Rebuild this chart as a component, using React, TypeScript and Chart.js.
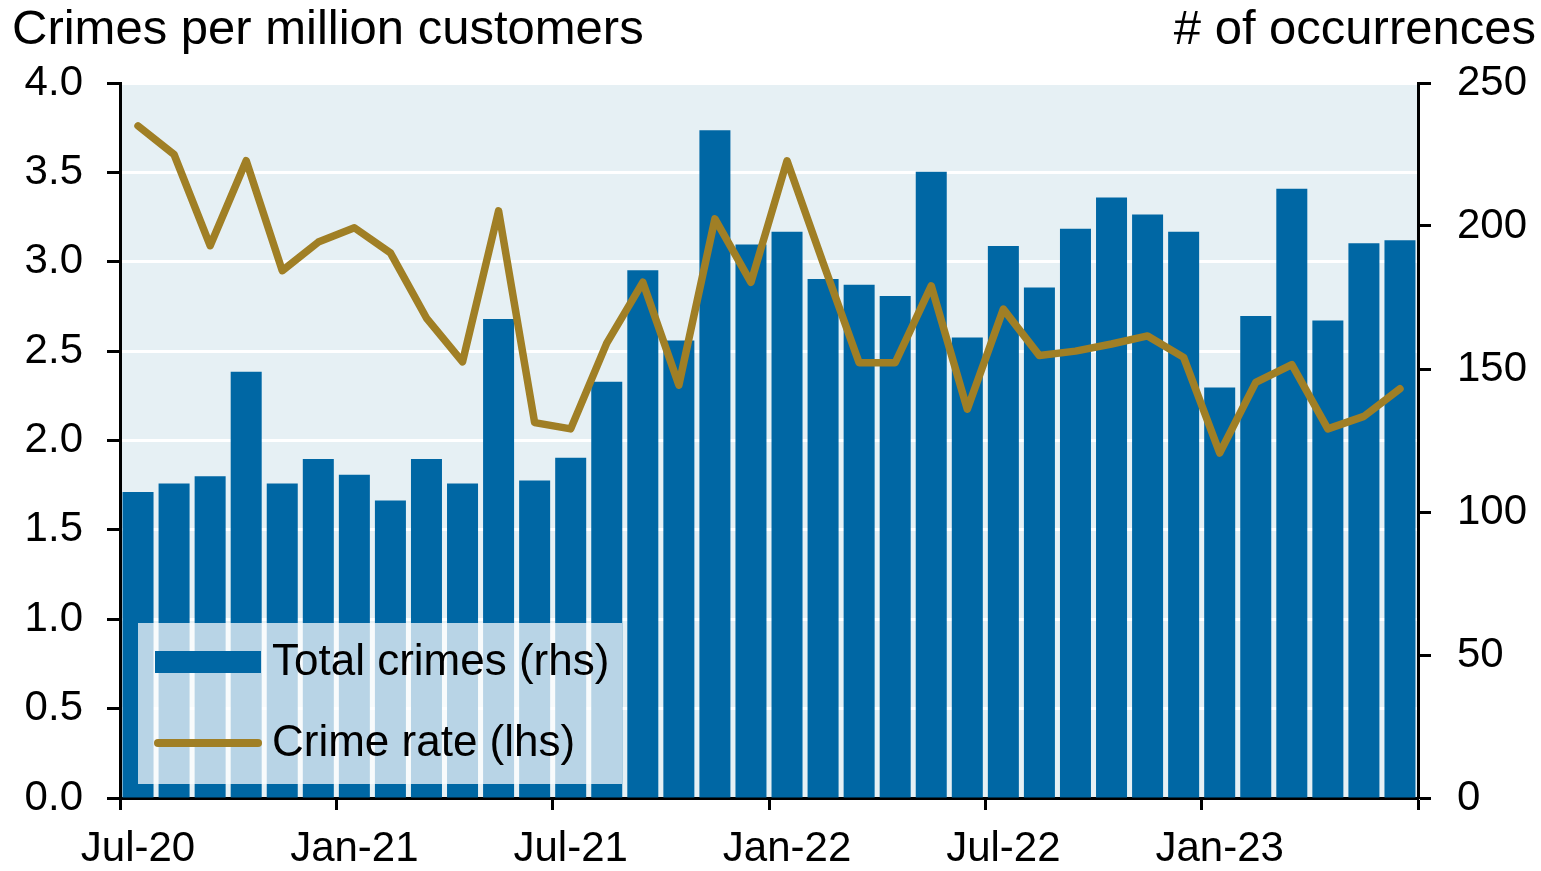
import React, { useEffect, useRef } from 'react';
import { Chart, registerables } from 'chart.js';

Chart.register(...registerables);

const months = [
  'Jul-20', 'Aug-20', 'Sep-20', 'Oct-20', 'Nov-20', 'Dec-20',
  'Jan-21', 'Feb-21', 'Mar-21', 'Apr-21', 'May-21', 'Jun-21',
  'Jul-21', 'Aug-21', 'Sep-21', 'Oct-21', 'Nov-21', 'Dec-21',
  'Jan-22', 'Feb-22', 'Mar-22', 'Apr-22', 'May-22', 'Jun-22',
  'Jul-22', 'Aug-22', 'Sep-22', 'Oct-22', 'Nov-22', 'Dec-22',
  'Jan-23', 'Feb-23', 'Mar-23', 'Apr-23', 'May-23', 'Jun-23',
];

// # of occurrences (right-hand axis)
const totalCrimes = [
  107, 110, 112.5, 149, 110, 118.5,
  113, 104, 118.5, 110, 167.5, 111,
  119, 145.5, 184.5, 160, 233.5, 193.5,
  198, 181.5, 179.5, 175.5, 219, 161,
  193, 178.5, 199, 210, 204, 198,
  143.5, 168.5, 213, 167, 194, 195,
];

// Crimes per million customers (left-hand axis)
const crimeRate = [
  3.76, 3.6, 3.09, 3.565, 2.95, 3.11,
  3.19, 3.05, 2.685, 2.44, 3.285, 2.1,
  2.065, 2.545, 2.885, 2.31, 3.24, 2.885,
  3.565, 2.995, 2.435, 2.435, 2.865, 2.175,
  2.735, 2.475, 2.5, 2.54, 2.585, 2.465,
  1.93, 2.325, 2.425, 2.065, 2.135, 2.29,
];

const leftTitle = 'Crimes per million customers';
const rightTitle = '# of occurrences';
const barLabel = 'Total crimes (rhs)';
const lineLabel = 'Crime rate (lhs)';

const FONT = '"Liberation Sans", Arial, sans-serif';
const BAR_COLOR = '#0067A4';
const LINE_COLOR = '#A07F25';
const PLOT_BG = '#E6F0F4';

const plotBackground = {
  id: 'plotBackground',
  beforeDraw(chart: any) {
    const { ctx, chartArea } = chart;
    ctx.save();
    ctx.fillStyle = PLOT_BG;
    ctx.fillRect(chartArea.left, chartArea.top, chartArea.right - chartArea.left, chartArea.bottom - chartArea.top);
    ctx.restore();
  },
};

const insideLegend = {
  id: 'insideLegend',
  afterDatasetsDraw(chart: any) {
    const { ctx, chartArea } = chart;
    const x0 = chartArea.left + 18;
    const y0 = chartArea.bottom - 175;
    const w = 484;
    const h = 161;
    ctx.save();
    ctx.fillStyle = 'rgba(255,255,255,0.72)';
    ctx.fillRect(x0, y0, w, h);

    const ds = chart.data.datasets;
    // bar swatch
    ctx.fillStyle = BAR_COLOR;
    ctx.fillRect(x0 + 17, y0 + 28, 106, 22);
    // line swatch
    ctx.strokeStyle = LINE_COLOR;
    ctx.lineWidth = 8;
    ctx.lineCap = 'round';
    ctx.beginPath();
    ctx.moveTo(x0 + 20, y0 + 120);
    ctx.lineTo(x0 + 120, y0 + 120);
    ctx.stroke();

    ctx.fillStyle = '#000';
    ctx.font = `44px ${FONT}`;
    ctx.textAlign = 'left';
    ctx.textBaseline = 'middle';
    ctx.fillText(ds[0].label, x0 + 134, y0 + 40);
    ctx.fillText(ds[1].label, x0 + 134, y0 + 121);
    ctx.restore();
  },
};

const axisTitles = {
  id: 'axisTitles',
  afterDraw(chart: any) {
    const { ctx, width } = chart;
    ctx.save();
    ctx.fillStyle = '#000';
    ctx.font = `49px ${FONT}`;
    ctx.textBaseline = 'alphabetic';
    ctx.textAlign = 'left';
    ctx.fillText(leftTitle, 12, 44);
    ctx.textAlign = 'right';
    ctx.fillText(rightTitle, width - 5, 44);
    ctx.restore();
  },
};

export default function App() {
  const canvasRef = useRef<HTMLCanvasElement | null>(null);

  useEffect(() => {
    const canvas = canvasRef.current;
    if (!canvas) return;
    const chart = new Chart(canvas, {
      type: 'bar',
      data: {
        labels: months,
        datasets: [
          {
            type: 'bar',
            label: barLabel,
            data: totalCrimes,
            yAxisID: 'y1',
            backgroundColor: BAR_COLOR,
            borderWidth: 0,
            barPercentage: 0.86,
            categoryPercentage: 1,
            order: 2,
          },
          {
            type: 'line',
            label: lineLabel,
            data: crimeRate,
            yAxisID: 'y',
            borderColor: LINE_COLOR,
            borderWidth: 7.5,
            pointRadius: 0,
            borderJoinStyle: 'round',
            borderCapStyle: 'round',
            tension: 0,
            order: 1,
          },
        ],
      } as any,
      options: {
        responsive: false,
        animation: false,
        events: [],
        layout: { padding: { top: 83, left: 0, right: 0, bottom: 0 } },
        plugins: {
          legend: { display: false },
          tooltip: { enabled: false },
          title: { display: false },
        },
        scales: {
          x: {
            type: 'category',
            offset: true,
            grid: {
              offset: true,
              drawOnChartArea: false,
              drawTicks: true,
              tickLength: 12,
              tickWidth: 3,
              tickColor: (c: any) => (c.index === undefined || c.index % 6 === 0 ? '#000' : 'rgba(0,0,0,0)'),
            },
            border: { display: true, color: '#000', width: 3 },
            ticks: {
              autoSkip: false,
              maxRotation: 0,
              minRotation: 0,
              padding: 14,
              color: '#000',
              font: { family: FONT, size: 42 },
              callback: (_v: any, i: number) => (i % 6 === 0 ? months[i] : ''),
            },
            afterFit: (s: any) => { s.height = 73; },
          },
          y: {
            position: 'left',
            min: 0,
            max: 4,
            grid: {
              drawOnChartArea: true,
              color: (c: any) => (c.tick && c.tick.value === 0 ? 'rgba(0,0,0,0)' : '#FFFFFF'),
              lineWidth: 3,
              drawTicks: true,
              tickLength: 13,
              tickWidth: 3,
              tickColor: '#000',
            },
            border: { display: true, color: '#000', width: 3 },
            ticks: {
              stepSize: 0.5,
              padding: 24,
              color: '#000',
              font: { family: FONT, size: 42 },
              callback: (v: any) => Number(v).toFixed(1),
            },
            afterFit: (s: any) => { s.width = 120; },
          },
          y1: {
            position: 'right',
            min: 0,
            max: 250,
            grid: {
              drawOnChartArea: false,
              drawTicks: true,
              tickLength: 13,
              tickWidth: 3,
              tickColor: '#000',
            },
            border: { display: true, color: '#000', width: 3 },
            ticks: {
              stepSize: 50,
              padding: 26,
              color: '#000',
              font: { family: FONT, size: 42 },
            },
            afterFit: (s: any) => { s.width = 123; },
          },
        },
      } as any,
      plugins: [plotBackground, insideLegend, axisTitles],
    });
    return () => chart.destroy();
  }, []);

  return (
    <div style={{ position: 'fixed', left: 0, top: 0, width: 1541, height: 871, background: '#fff' }}>
      <canvas ref={canvasRef} width={1541} height={871} style={{ display: 'block' }} />
    </div>
  );
}
